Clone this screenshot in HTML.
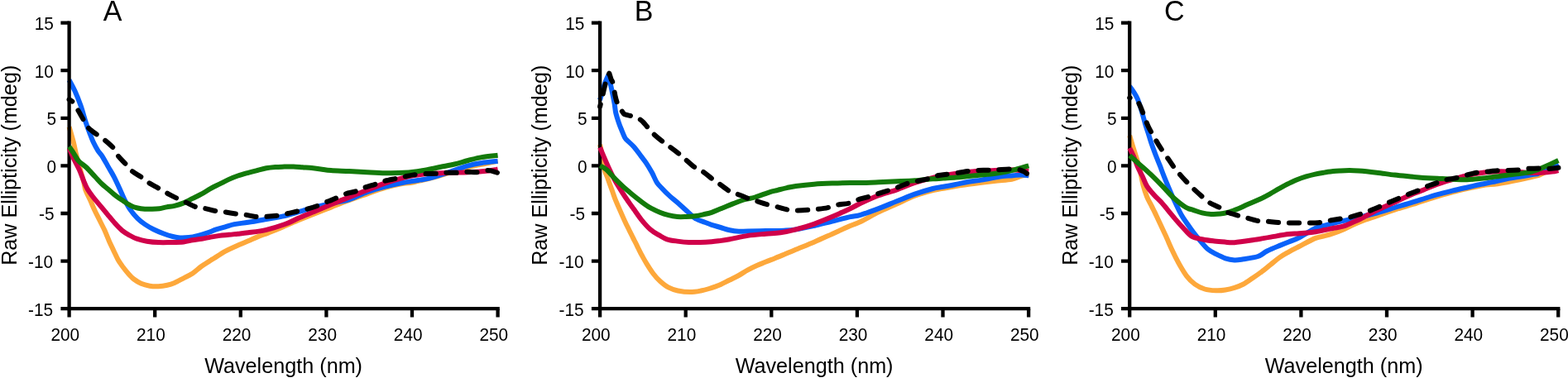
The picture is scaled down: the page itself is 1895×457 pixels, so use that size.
<!DOCTYPE html>
<html><head><meta charset="utf-8"><title>CD spectra</title>
<style>
html,body{margin:0;padding:0;background:#fff;}
body{width:1895px;height:457px;overflow:hidden;}
svg{display:block;}
.t{font-size:20.8px;font-family:'Liberation Sans',Arial,sans-serif;fill:#000;}
.at{font-size:25.2px;font-family:'Liberation Sans',Arial,sans-serif;fill:#000;}
.pl{font-size:34px;font-family:'Liberation Sans',Arial,sans-serif;fill:#000;}
</style></head><body>
<svg width="1895" height="457" viewBox="0 0 1895 457">
<rect width="1895" height="457" fill="#fff"/>
<text transform="translate(64.8,36.0) scale(1,1.07)" text-anchor="end" class="t">15</text>
<text transform="translate(64.8,93.6) scale(1,1.07)" text-anchor="end" class="t">10</text>
<text transform="translate(68.0,151.2) scale(1,1.07)" text-anchor="end" class="t">5</text>
<text transform="translate(68.0,208.8) scale(1,1.07)" text-anchor="end" class="t">0</text>
<text transform="translate(65.6,266.4) scale(1,1.07)" text-anchor="end" class="t">-5</text>
<text transform="translate(64.1,324.0) scale(1,1.07)" text-anchor="end" class="t">-10</text>
<text transform="translate(64.1,381.6) scale(1,1.07)" text-anchor="end" class="t">-15</text>
<text transform="translate(78.8,411.6) scale(1,1.07)" text-anchor="middle" class="t">200</text>
<text transform="translate(182.4,411.6) scale(1,1.07)" text-anchor="middle" class="t">210</text>
<text transform="translate(286.0,411.6) scale(1,1.07)" text-anchor="middle" class="t">220</text>
<text transform="translate(389.6,411.6) scale(1,1.07)" text-anchor="middle" class="t">230</text>
<text transform="translate(493.2,411.6) scale(1,1.07)" text-anchor="middle" class="t">240</text>
<text transform="translate(596.8,411.6) scale(1,1.07)" text-anchor="middle" class="t">250</text>
<path d="M83.6,153.3 C84.5,156.4 87.3,166.1 88.8,171.8 C90.2,177.5 91.0,182.4 92.3,187.6 C93.6,192.9 95.1,198.1 96.6,203.3 C98.0,208.6 99.9,214.7 101.0,219.1 C102.1,223.5 102.0,225.8 103.3,229.6 C104.6,233.4 107.2,237.7 109.0,241.8 C110.8,245.9 112.4,250.0 114.3,254.1 C116.2,258.2 118.4,262.2 120.4,266.3 C122.4,270.4 124.6,274.4 126.5,278.6 C128.4,282.9 130.2,287.7 132.0,291.8 C133.8,295.9 135.6,299.3 137.3,303.0 C139.1,306.7 140.8,310.7 142.5,313.8 C144.2,316.9 145.8,318.9 147.8,321.7 C149.9,324.5 152.5,327.9 154.8,330.5 C157.1,333.1 159.2,335.5 161.8,337.5 C164.4,339.5 167.3,341.3 170.5,342.7 C173.7,344.1 177.5,345.1 181.0,345.7 C184.5,346.3 188.0,346.4 191.5,346.2 C195.0,346.0 198.9,345.4 202.1,344.7 C205.3,344.0 207.6,343.3 210.9,341.9 C214.2,340.5 218.2,338.2 221.9,336.3 C225.6,334.4 229.2,332.9 232.8,330.5 C236.5,328.1 239.5,324.9 243.8,321.8 C248.1,318.8 254.0,315.2 258.7,312.2 C263.4,309.2 267.6,306.2 272.0,303.8 C276.4,301.4 280.3,299.8 285.0,297.7 C289.7,295.6 295.6,293.2 300.0,291.3 C304.4,289.4 307.2,288.0 311.2,286.4 C315.2,284.8 319.6,283.3 324.0,281.6 C328.4,279.9 333.1,278.2 337.5,276.3 C341.9,274.4 346.9,272.1 350.6,270.5 C354.4,268.9 355.1,268.4 360.0,266.4 C364.9,264.4 373.3,261.1 380.0,258.5 C386.7,255.9 393.3,253.2 400.0,250.6 C406.7,248.0 412.7,245.5 420.0,242.8 C427.3,240.1 436.2,237.0 443.8,234.3 C451.4,231.6 458.3,228.9 465.6,226.8 C472.9,224.7 481.8,222.9 487.5,221.8 C493.2,220.7 492.9,221.8 500.0,220.3 C507.1,218.8 520.0,215.6 530.0,212.8 C540.0,210.0 551.7,205.9 560.0,203.6 C568.3,201.3 574.1,200.2 580.0,199.0 C585.9,197.8 591.6,196.8 595.2,196.1 C598.8,195.4 600.5,195.0 601.6,194.8" fill="none" stroke="#FDA83B" stroke-width="6.0" stroke-linecap="butt" stroke-linejoin="round"/>
<path d="M83.6,96.8 C84.8,99.0 88.2,105.0 90.5,110.1 C92.8,115.2 95.2,121.1 97.5,127.6 C99.8,134.1 102.2,143.4 104.0,148.8 C105.8,154.2 106.5,155.9 108.0,159.8 C109.5,163.7 111.2,168.6 113.0,172.3 C114.8,176.1 116.7,179.5 118.5,182.3 C120.3,185.1 121.8,186.1 123.8,189.3 C125.8,192.5 128.5,197.5 130.8,201.6 C133.1,205.7 135.5,209.4 137.8,213.8 C140.1,218.2 142.3,223.2 144.4,227.8 C146.5,232.4 148.3,237.0 150.5,241.3 C152.7,245.6 154.9,249.8 157.5,253.6 C160.1,257.4 163.4,261.2 166.3,264.1 C169.2,267.0 171.8,268.9 175.0,271.1 C178.2,273.3 181.7,275.3 185.5,277.2 C189.3,279.1 193.9,281.0 197.8,282.5 C201.7,284.0 205.5,285.2 208.8,286.0 C212.1,286.8 214.2,287.3 217.5,287.5 C220.8,287.7 224.8,287.5 228.4,287.1 C232.1,286.7 235.8,285.8 239.4,284.9 C243.1,284.0 246.7,282.9 250.3,281.6 C254.0,280.4 257.7,278.6 261.3,277.4 C264.9,276.2 268.6,275.4 272.2,274.3 C275.8,273.2 278.6,272.0 283.2,271.1 C287.8,270.2 293.6,269.8 300.0,268.8 C306.4,267.8 314.6,266.3 321.9,265.0 C329.2,263.7 336.5,262.8 343.8,261.1 C351.1,259.4 359.6,256.6 365.6,254.8 C371.6,253.1 374.3,252.1 380.0,250.6 C385.7,249.1 393.0,247.4 400.0,245.8 C407.0,244.2 414.6,243.6 421.9,241.3 C429.2,239.0 436.5,234.7 443.8,232.1 C451.1,229.5 458.3,227.5 465.6,225.6 C472.9,223.7 481.8,221.9 487.5,220.8 C493.2,219.7 495.2,219.6 500.0,218.8 C504.8,218.0 510.9,217.4 516.4,216.1 C521.9,214.9 527.3,213.0 532.8,211.3 C538.3,209.6 543.8,207.7 549.3,205.9 C554.8,204.1 560.2,201.8 565.7,200.3 C571.2,198.8 576.1,197.9 582.1,197.0 C588.1,196.1 598.4,195.2 601.6,194.8" fill="none" stroke="#0A62FA" stroke-width="6.0" stroke-linecap="butt" stroke-linejoin="round"/>
<path d="M83.6,25.6 V373.2 H603.8" fill="none" stroke="#000" stroke-width="4.3" stroke-linejoin="miter" stroke-linecap="butt"/>
<path d="M73.4,27.6 H83.6 M73.4,85.2 H83.6 M73.4,142.8 H83.6 M73.4,200.4 H83.6 M73.4,258.0 H83.6 M73.4,315.6 H83.6 M73.4,373.2 H83.6 M83.6,373.2 V383.4 M187.2,373.2 V383.4 M290.8,373.2 V383.4 M394.4,373.2 V383.4 M498.0,373.2 V383.4 M601.6,373.2 V383.4" fill="none" stroke="#000" stroke-width="4.3"/>
<path d="M83.6,179.1 C84.5,181.1 86.8,187.0 88.8,191.3 C90.8,195.6 93.8,200.6 95.8,205.1 C97.8,209.6 99.4,214.4 101.0,218.3 C102.6,222.2 103.6,225.0 105.5,228.3 C107.4,231.6 109.9,234.9 112.5,238.3 C115.1,241.7 118.4,245.3 121.3,248.8 C124.2,252.3 127.1,255.8 130.0,259.3 C132.9,262.8 135.9,266.6 138.8,269.8 C141.7,273.0 144.6,276.2 147.5,278.6 C150.4,281.0 153.3,282.6 156.3,284.3 C159.3,286.0 161.8,287.5 165.3,288.7 C168.8,289.9 173.1,291.0 177.5,291.7 C181.9,292.4 186.9,292.9 191.5,293.1 C196.1,293.3 199.9,293.2 205.0,293.1 C210.1,293.0 217.3,293.0 221.9,292.5 C226.5,292.0 229.2,290.9 232.8,290.3 C236.5,289.7 240.2,289.4 243.8,288.8 C247.5,288.2 251.1,287.2 254.7,286.6 C258.3,286.0 262.0,285.4 265.6,284.9 C269.2,284.4 273.0,284.2 276.6,283.8 C280.2,283.4 283.6,283.1 287.5,282.7 C291.4,282.3 294.3,282.1 300.0,281.3 C305.7,280.5 314.6,279.5 321.9,277.8 C329.2,276.1 337.4,273.6 343.8,271.3 C350.2,269.0 354.0,266.7 360.0,264.1 C366.0,261.5 373.3,258.6 380.0,255.8 C386.7,253.0 393.3,250.1 400.0,247.3 C406.7,244.5 412.7,242.0 420.0,239.1 C427.3,236.2 436.2,232.8 443.8,229.8 C451.4,226.8 458.3,223.8 465.6,221.3 C472.9,218.8 481.8,216.3 487.5,214.8 C493.2,213.3 495.2,212.9 500.0,212.1 C504.8,211.3 510.9,210.6 516.4,210.1 C521.9,209.6 527.3,209.5 532.8,209.3 C538.3,209.1 543.8,209.0 549.3,208.8 C554.8,208.6 560.2,208.5 565.7,208.2 C571.2,207.9 576.6,207.7 582.1,207.2 C587.6,206.7 595.2,205.7 598.5,205.2 C601.8,204.7 601.1,204.5 601.6,204.4" fill="none" stroke="#D0004A" stroke-width="6.0" stroke-linecap="butt" stroke-linejoin="round"/>
<path d="M83.6,177.3 C84.5,178.6 86.9,181.9 88.8,184.8 C90.7,187.7 92.3,191.7 94.9,194.6 C97.5,197.6 101.2,199.3 104.5,202.5 C107.8,205.7 111.9,210.5 115.0,213.8 C118.1,217.1 120.3,219.8 123.0,222.3 C125.7,224.9 128.1,226.6 131.0,229.1 C133.9,231.6 137.5,234.9 140.5,237.2 C143.5,239.5 146.0,241.0 148.8,242.8 C151.6,244.7 154.6,246.9 157.5,248.3 C160.4,249.8 163.4,250.8 166.3,251.5 C169.2,252.2 172.1,252.5 175.0,252.7 C177.9,252.9 180.9,252.9 183.8,252.8 C186.7,252.7 189.6,252.6 192.5,252.2 C195.4,251.8 198.2,251.0 201.3,250.4 C204.4,249.8 207.5,249.6 210.9,248.8 C214.3,248.0 218.2,246.9 221.9,245.4 C225.6,243.9 229.2,241.7 232.8,239.9 C236.5,238.1 240.2,236.4 243.8,234.4 C247.5,232.4 251.1,229.8 254.7,227.8 C258.3,225.8 262.0,224.2 265.6,222.4 C269.2,220.6 273.0,218.6 276.6,216.9 C280.2,215.2 283.6,213.8 287.5,212.5 C291.4,211.2 296.1,209.9 300.0,208.8 C303.9,207.7 307.2,206.9 310.9,206.0 C314.5,205.1 318.2,204.0 321.9,203.3 C325.5,202.6 329.1,202.3 332.8,202.0 C336.5,201.7 340.2,201.7 343.8,201.6 C347.4,201.5 351.1,201.5 354.7,201.6 C358.3,201.7 362.0,202.0 365.6,202.2 C369.2,202.5 373.0,202.7 376.6,203.1 C380.2,203.5 383.6,203.9 387.5,204.4 C391.4,204.9 394.3,205.6 400.0,206.0 C405.7,206.4 414.6,206.7 421.9,207.1 C429.2,207.5 436.5,207.9 443.8,208.2 C451.1,208.6 458.3,209.1 465.6,209.2 C472.9,209.3 481.8,209.0 487.5,208.8 C493.2,208.6 495.2,208.4 500.0,207.8 C504.8,207.2 510.9,206.1 516.4,205.1 C521.9,204.1 527.3,202.9 532.8,201.8 C538.3,200.7 543.8,199.8 549.3,198.5 C554.8,197.2 560.2,195.4 565.7,194.0 C571.2,192.6 576.1,191.1 582.1,190.1 C588.1,189.1 598.4,188.2 601.6,187.8" fill="none" stroke="#137A0A" stroke-width="6.0" stroke-linecap="butt" stroke-linejoin="round"/>
<path class="bk" d="M83.6,120.3 C84.3,120.8 86.3,121.2 88.0,123.3 C89.7,125.4 91.8,129.2 94.0,132.8 C96.2,136.4 99.0,141.6 101.0,145.1 C103.0,148.7 103.6,151.2 106.3,154.1 C109.0,157.1 113.8,160.3 117.2,162.8 C120.6,165.3 123.1,166.5 126.4,169.2 C129.7,171.9 134.2,175.7 136.9,178.8 C139.6,181.9 139.9,184.7 142.4,188.0 C144.9,191.3 149.2,195.3 152.0,198.4 C154.8,201.5 156.1,204.0 159.3,206.7 C162.6,209.4 168.2,212.3 171.5,214.6 C174.8,216.9 176.0,218.5 179.4,220.7 C182.8,222.9 188.1,225.6 191.7,227.7 C195.3,229.8 197.4,231.2 201.2,233.2 C205.0,235.2 210.5,238.2 214.3,240.0 C218.1,241.8 220.3,242.6 224.1,244.3 C227.9,246.0 233.4,249.1 237.2,250.4 C241.0,251.7 243.0,251.1 247.0,251.9 C251.0,252.7 257.3,254.5 261.3,255.2 C265.3,255.9 267.1,255.8 271.1,256.3 C275.1,256.9 281.1,257.9 285.3,258.5 C289.5,259.1 292.4,259.0 296.3,259.6 C300.2,260.2 304.7,261.6 308.8,262.0 C312.9,262.4 316.4,262.0 320.8,261.8 C325.2,261.6 330.8,261.2 335.0,260.7 C339.2,260.1 341.8,259.4 346.0,258.5 C350.2,257.6 356.2,256.1 360.2,255.2 C364.2,254.3 366.0,254.1 370.0,253.0 C374.0,251.9 380.2,250.1 384.2,248.6 C388.2,247.2 391.5,245.4 394.1,244.3 C396.7,243.2 397.7,243.0 400.0,242.1 C402.3,241.2 404.8,240.1 407.7,238.8 C410.6,237.5 413.7,235.7 417.5,234.4 C421.3,233.1 426.8,232.4 430.6,231.1 C434.4,229.8 436.5,228.2 440.5,226.8 C444.5,225.4 450.9,223.7 454.7,222.4 C458.5,221.1 459.5,220.2 463.5,219.1 C467.5,218.0 474.6,216.7 478.8,215.8 C483.0,214.9 485.1,214.3 488.6,213.6 C492.1,212.9 495.9,212.0 500.0,211.4 C504.1,210.8 508.5,210.4 513.1,210.1 C517.8,209.8 523.8,210.0 527.9,209.8 C532.0,209.6 533.7,209.0 537.8,208.8 C541.9,208.6 548.3,209.0 552.5,208.8 C556.7,208.6 559.1,207.8 563.2,207.7 C567.3,207.6 573.1,208.5 577.2,208.2 C581.3,207.9 585.0,206.3 587.8,206.0 C590.6,205.7 591.8,206.1 594.0,206.6 C596.2,207.1 599.8,208.4 601.0,208.8" fill="none" stroke="#000" stroke-width="6.0" stroke-dasharray="12 13" stroke-dashoffset="7.5" stroke-linecap="round" stroke-linejoin="round"/>
<text transform="translate(706.3,36.0) scale(1,1.07)" text-anchor="end" class="t">15</text>
<text transform="translate(706.3,93.6) scale(1,1.07)" text-anchor="end" class="t">10</text>
<text transform="translate(709.5,151.2) scale(1,1.07)" text-anchor="end" class="t">5</text>
<text transform="translate(709.5,208.8) scale(1,1.07)" text-anchor="end" class="t">0</text>
<text transform="translate(707.1,266.4) scale(1,1.07)" text-anchor="end" class="t">-5</text>
<text transform="translate(705.6,324.0) scale(1,1.07)" text-anchor="end" class="t">-10</text>
<text transform="translate(705.6,381.6) scale(1,1.07)" text-anchor="end" class="t">-15</text>
<text transform="translate(720.3,411.6) scale(1,1.07)" text-anchor="middle" class="t">200</text>
<text transform="translate(823.9,411.6) scale(1,1.07)" text-anchor="middle" class="t">210</text>
<text transform="translate(927.5,411.6) scale(1,1.07)" text-anchor="middle" class="t">220</text>
<text transform="translate(1031.1,411.6) scale(1,1.07)" text-anchor="middle" class="t">230</text>
<text transform="translate(1134.7,411.6) scale(1,1.07)" text-anchor="middle" class="t">240</text>
<text transform="translate(1238.3,411.6) scale(1,1.07)" text-anchor="middle" class="t">250</text>
<path d="M725.1,174.8 C725.5,176.8 726.6,181.8 727.5,186.8 C728.4,191.8 729.5,200.3 730.5,204.8 C731.5,209.3 732.7,210.8 733.8,213.8 C734.9,216.8 735.9,219.8 737.0,222.8 C738.1,225.8 739.2,228.8 740.3,231.8 C741.4,234.8 742.0,237.2 743.5,240.8 C745.0,244.4 746.9,248.9 749.0,253.6 C751.1,258.4 753.7,264.4 756.0,269.3 C758.3,274.2 761.2,279.7 763.0,283.3 C764.8,286.9 765.4,288.4 766.6,290.7 C767.8,293.0 768.9,295.1 770.0,297.3 C771.1,299.5 772.2,301.9 773.2,303.9 C774.2,306.0 774.8,307.2 776.2,309.6 C777.6,312.1 779.2,315.0 781.4,318.6 C783.6,322.2 786.9,327.4 789.6,331.0 C792.3,334.6 794.8,337.3 797.8,340.0 C800.8,342.7 804.1,345.5 807.7,347.4 C811.3,349.3 814.8,350.6 819.2,351.5 C823.6,352.4 829.4,353.1 834.0,353.1 C838.6,353.1 843.3,352.2 847.1,351.5 C850.9,350.8 854.0,349.9 857.0,349.0 C860.0,348.1 862.7,347.1 865.0,346.3 C867.3,345.5 868.1,345.3 870.9,344.0 C873.7,342.7 878.2,340.3 881.9,338.5 C885.5,336.7 889.1,335.0 892.8,333.0 C896.4,331.0 900.1,328.4 903.8,326.4 C907.4,324.4 911.1,322.6 914.7,321.0 C918.3,319.4 922.0,318.1 925.6,316.6 C929.2,315.1 933.0,313.7 936.6,312.2 C940.2,310.7 943.6,309.4 947.5,307.8 C951.4,306.2 954.0,304.9 960.0,302.4 C966.0,299.9 976.2,295.9 983.8,292.7 C991.4,289.4 998.3,286.2 1005.6,282.9 C1012.9,279.6 1021.8,275.5 1027.5,273.0 C1033.2,270.5 1034.3,270.8 1040.0,268.0 C1045.7,265.2 1054.6,260.0 1061.9,256.4 C1069.2,252.8 1076.5,249.9 1083.8,246.6 C1091.1,243.3 1098.3,239.5 1105.6,236.8 C1112.9,234.1 1121.8,231.7 1127.5,230.2 C1133.2,228.7 1132.8,229.0 1140.0,227.8 C1147.2,226.6 1160.4,224.3 1170.6,222.9 C1180.8,221.5 1192.6,220.1 1201.3,219.1 C1210.0,218.1 1217.6,217.7 1222.7,216.8 C1227.8,215.9 1228.5,214.8 1231.9,213.7 C1235.3,212.6 1241.4,210.9 1243.3,210.3" fill="none" stroke="#FDA83B" stroke-width="6.0" stroke-linecap="butt" stroke-linejoin="round"/>
<path d="M725.1,120.8 C725.7,118.8 727.4,112.4 728.5,108.8 C729.6,105.2 730.4,102.2 731.5,99.3 C732.6,96.4 735.0,91.3 735.0,91.3 C735.0,91.3 736.3,96.2 737.0,98.8 C737.7,101.4 738.1,102.8 739.0,107.1 C739.9,111.4 741.6,119.6 742.5,124.6 C743.4,129.6 743.3,132.6 744.3,136.8 C745.3,141.0 747.1,146.3 748.3,149.8 C749.5,153.3 750.4,155.1 751.5,157.8 C752.6,160.5 753.9,163.9 754.9,165.8 C755.9,167.7 755.6,167.3 757.5,169.3 C759.4,171.3 763.4,174.4 766.3,177.7 C769.2,181.0 772.6,185.9 775.0,189.1 C777.4,192.3 778.6,193.5 780.8,196.8 C783.0,200.1 785.8,204.8 788.0,208.8 C790.2,212.8 791.8,217.5 794.0,220.8 C796.2,224.1 798.4,225.9 801.0,228.7 C803.6,231.5 806.6,234.5 809.8,237.4 C813.0,240.3 816.8,243.1 820.3,246.2 C823.8,249.3 827.3,252.7 830.8,255.8 C834.3,258.9 838.1,262.6 841.3,264.6 C844.5,266.7 846.9,266.9 850.0,268.1 C853.1,269.3 856.5,270.7 860.0,271.8 C863.5,272.9 867.2,273.9 870.9,275.0 C874.5,276.1 878.2,277.5 881.9,278.3 C885.5,279.1 889.1,279.6 892.8,279.8 C896.4,280.0 898.3,279.6 903.8,279.5 C909.3,279.4 918.3,279.1 925.6,279.0 C932.9,278.9 941.5,279.0 947.5,278.7 C953.5,278.4 955.9,278.4 961.9,277.4 C967.9,276.5 976.5,274.6 983.8,273.0 C991.1,271.4 998.3,269.3 1005.6,267.5 C1012.9,265.7 1021.8,263.4 1027.5,262.1 C1033.2,260.8 1034.3,261.5 1040.0,259.8 C1045.7,258.1 1054.6,254.9 1061.9,252.1 C1069.2,249.4 1076.5,246.2 1083.8,243.3 C1091.1,240.4 1098.3,237.2 1105.6,234.6 C1112.9,232.1 1121.8,229.5 1127.5,228.0 C1133.2,226.5 1135.4,226.7 1140.0,225.8 C1144.6,225.0 1150.2,223.9 1155.3,222.9 C1160.4,221.9 1165.5,220.7 1170.6,219.8 C1175.7,218.9 1180.9,218.4 1186.0,217.6 C1191.1,216.8 1197.0,215.6 1201.3,214.8 C1205.6,214.0 1208.2,213.4 1212.0,213.0 C1215.8,212.6 1220.4,212.5 1224.2,212.2 C1228.0,211.9 1231.7,211.4 1234.9,211.4 C1238.1,211.4 1241.9,212.2 1243.3,212.3" fill="none" stroke="#0A62FA" stroke-width="6.0" stroke-linecap="butt" stroke-linejoin="round"/>
<path d="M725.1,25.6 V373.2 H1245.2" fill="none" stroke="#000" stroke-width="4.3" stroke-linejoin="miter" stroke-linecap="butt"/>
<path d="M714.9,27.6 H725.1 M714.9,85.2 H725.1 M714.9,142.8 H725.1 M714.9,200.4 H725.1 M714.9,258.0 H725.1 M714.9,315.6 H725.1 M714.9,373.2 H725.1 M725.1,373.2 V383.4 M828.7,373.2 V383.4 M932.3,373.2 V383.4 M1035.9,373.2 V383.4 M1139.5,373.2 V383.4 M1243.1,373.2 V383.4" fill="none" stroke="#000" stroke-width="4.3"/>
<path d="M725.1,178.3 C726.0,180.4 728.4,186.3 730.3,190.7 C732.2,195.1 734.4,200.2 736.4,204.5 C738.4,208.8 740.6,213.2 742.5,216.8 C744.4,220.4 745.8,222.6 748.0,226.3 C750.2,230.0 752.9,234.2 756.0,238.8 C759.1,243.4 763.3,249.1 766.5,253.6 C769.7,258.1 772.1,261.9 775.3,265.8 C778.5,269.7 782.3,274.1 785.8,277.2 C789.3,280.3 792.9,282.2 796.3,284.2 C799.7,286.2 802.3,288.1 806.0,289.3 C809.7,290.5 814.1,291.0 818.5,291.6 C822.9,292.2 827.8,292.8 832.5,293.0 C837.2,293.2 841.9,293.1 846.5,293.0 C851.1,292.9 856.1,292.6 860.0,292.3 C863.9,292.0 866.4,291.6 870.0,291.1 C873.6,290.6 876.3,290.2 881.9,289.2 C887.5,288.2 896.5,286.0 903.8,284.9 C911.1,283.8 919.0,283.3 925.6,282.7 C932.2,282.1 937.2,282.2 943.2,281.3 C949.2,280.4 955.1,279.2 961.9,277.4 C968.7,275.7 976.5,273.4 983.8,270.8 C991.1,268.2 998.3,265.2 1005.6,262.1 C1012.9,259.0 1021.8,254.9 1027.5,252.2 C1033.2,249.5 1034.3,248.5 1040.0,245.8 C1045.7,243.2 1054.6,239.1 1061.9,236.3 C1069.2,233.6 1076.5,231.9 1083.8,229.3 C1091.1,226.7 1098.3,223.2 1105.6,220.8 C1112.9,218.4 1121.8,216.2 1127.5,214.8 C1133.2,213.4 1132.7,213.5 1140.0,212.3 C1147.3,211.1 1162.1,208.8 1171.4,207.8 C1180.7,206.8 1187.7,206.7 1195.9,206.3 C1204.1,205.9 1212.5,205.2 1220.4,205.3 C1228.3,205.4 1239.5,206.6 1243.3,206.8" fill="none" stroke="#D0004A" stroke-width="6.0" stroke-linecap="butt" stroke-linejoin="round"/>
<path d="M725.1,200.3 C726.5,201.1 730.6,203.1 733.3,205.3 C735.9,207.5 738.5,211.0 741.0,213.7 C743.5,216.4 745.8,218.6 748.6,221.3 C751.4,224.0 754.2,226.7 757.8,229.8 C761.4,232.9 765.6,236.4 770.0,239.8 C774.4,243.2 779.4,247.3 784.0,250.1 C788.6,252.9 793.5,255.0 797.5,256.7 C801.5,258.4 804.5,259.3 808.0,260.2 C811.5,261.1 815.0,261.7 818.5,262.0 C822.0,262.3 825.5,262.1 829.0,262.0 C832.5,261.9 836.0,261.8 839.5,261.3 C843.0,260.9 846.6,260.1 850.0,259.3 C853.4,258.6 856.2,258.1 860.0,256.8 C863.8,255.5 868.3,253.4 872.6,251.7 C876.9,250.0 881.1,248.2 885.7,246.4 C890.3,244.7 895.5,242.5 900.0,241.2 C904.5,239.9 907.5,240.0 912.5,238.5 C917.5,237.0 925.4,233.8 930.0,232.3 C934.6,230.9 936.5,230.7 940.0,229.8 C943.5,228.9 947.2,227.9 950.9,227.1 C954.5,226.3 956.4,225.6 961.9,224.9 C967.4,224.2 976.5,223.2 983.8,222.7 C991.1,222.2 998.3,221.9 1005.6,221.6 C1012.9,221.3 1021.8,221.0 1027.5,220.9 C1033.2,220.8 1034.3,221.2 1040.0,221.1 C1045.7,221.0 1054.6,220.6 1061.9,220.3 C1069.2,220.0 1076.5,219.6 1083.8,219.2 C1091.1,218.9 1098.3,218.7 1105.6,218.2 C1112.9,217.7 1121.8,216.7 1127.5,216.3 C1133.2,215.9 1135.4,215.9 1140.0,215.6 C1144.6,215.3 1150.2,215.0 1155.3,214.6 C1160.4,214.2 1165.5,213.5 1170.6,213.0 C1175.7,212.5 1180.9,211.9 1186.0,211.4 C1191.1,210.9 1196.2,210.5 1201.3,209.9 C1206.4,209.3 1212.0,208.5 1216.6,207.6 C1221.2,206.7 1224.3,205.7 1228.8,204.5 C1233.2,203.3 1240.9,201.0 1243.3,200.3" fill="none" stroke="#137A0A" stroke-width="6.0" stroke-linecap="butt" stroke-linejoin="round"/>
<path class="bk" d="M725.1,128.8 C725.6,126.8 727.0,121.0 728.0,116.8 C729.0,112.6 730.0,107.5 731.0,103.8 C732.0,100.0 732.9,96.8 733.8,94.3 C734.7,91.8 736.3,88.6 736.3,88.6 C736.3,88.6 737.9,93.8 738.6,95.8 C739.4,97.8 740.0,97.5 740.8,100.8 C741.6,104.1 742.6,111.8 743.5,115.8 C744.4,119.8 745.1,122.2 746.0,124.6 C746.9,127.0 748.0,128.6 749.0,130.3 C750.0,132.0 751.0,133.5 752.0,134.8 C753.0,136.1 753.1,137.4 755.0,138.3 C756.9,139.2 761.3,139.8 763.5,140.3 C765.7,140.8 766.5,140.8 768.0,141.3 C769.5,141.9 770.9,142.6 772.4,143.6 C773.9,144.6 775.0,145.4 776.8,147.1 C778.5,148.9 780.7,151.6 782.9,154.1 C785.1,156.6 786.8,159.1 789.9,162.0 C793.0,164.9 798.1,169.1 801.3,171.6 C804.5,174.2 805.9,174.9 809.2,177.3 C812.5,179.7 817.7,183.6 821.0,186.2 C824.3,188.9 825.7,190.4 828.9,193.2 C832.1,196.0 836.9,200.5 840.3,202.8 C843.6,205.1 845.6,205.0 849.0,207.2 C852.4,209.4 857.1,213.5 860.4,216.0 C863.7,218.5 865.6,219.5 869.0,222.0 C872.4,224.5 877.5,228.8 881.0,230.8 C884.5,232.8 885.8,232.5 889.8,234.1 C893.8,235.7 900.8,238.8 904.7,240.2 C908.6,241.7 909.6,241.6 913.4,242.8 C917.2,244.0 923.0,246.0 927.4,247.2 C931.8,248.5 936.1,249.3 940.0,250.3 C943.9,251.3 947.2,252.6 950.9,253.3 C954.5,254.0 957.5,254.3 961.9,254.4 C966.3,254.5 973.0,254.1 977.2,253.8 C981.4,253.6 983.2,253.3 987.0,252.9 C990.8,252.5 996.2,252.0 1000.2,251.1 C1004.2,250.3 1006.7,248.7 1011.1,247.8 C1015.5,246.9 1022.2,246.7 1026.4,245.7 C1030.6,244.7 1032.4,242.9 1036.3,241.6 C1040.2,240.3 1045.9,239.0 1049.8,237.8 C1053.7,236.6 1055.7,235.9 1059.7,234.6 C1063.7,233.3 1069.9,231.5 1073.9,230.2 C1077.9,228.9 1079.8,228.4 1083.8,226.9 C1087.8,225.4 1094.0,222.7 1098.0,221.4 C1102.0,220.1 1103.8,220.1 1107.8,219.2 C1111.8,218.3 1118.3,217.1 1122.1,216.0 C1125.9,214.9 1127.8,213.5 1130.8,212.7 C1133.8,211.9 1135.8,211.9 1140.0,211.3 C1144.2,210.7 1150.9,209.9 1156.1,209.1 C1161.3,208.4 1167.3,207.3 1171.4,206.8 C1175.5,206.3 1176.5,206.3 1180.6,206.1 C1184.7,205.9 1191.8,205.7 1195.9,205.6 C1200.0,205.5 1201.0,205.5 1205.1,205.3 C1209.2,205.1 1216.2,204.6 1220.4,204.5 C1224.6,204.4 1227.6,204.3 1230.4,204.8 C1233.2,205.3 1235.2,206.5 1237.0,207.3 C1238.8,208.1 1240.3,209.4 1241.0,209.8" fill="none" stroke="#000" stroke-width="6.0" stroke-dasharray="12 13" stroke-dashoffset="9.2" stroke-linecap="round" stroke-linejoin="round"/>
<text transform="translate(1346.4,36.0) scale(1,1.07)" text-anchor="end" class="t">15</text>
<text transform="translate(1346.4,93.6) scale(1,1.07)" text-anchor="end" class="t">10</text>
<text transform="translate(1349.6,151.2) scale(1,1.07)" text-anchor="end" class="t">5</text>
<text transform="translate(1349.6,208.8) scale(1,1.07)" text-anchor="end" class="t">0</text>
<text transform="translate(1347.2,266.4) scale(1,1.07)" text-anchor="end" class="t">-5</text>
<text transform="translate(1345.7,324.0) scale(1,1.07)" text-anchor="end" class="t">-10</text>
<text transform="translate(1345.7,381.6) scale(1,1.07)" text-anchor="end" class="t">-15</text>
<text transform="translate(1360.4,411.6) scale(1,1.07)" text-anchor="middle" class="t">200</text>
<text transform="translate(1464.0,411.6) scale(1,1.07)" text-anchor="middle" class="t">210</text>
<text transform="translate(1567.6,411.6) scale(1,1.07)" text-anchor="middle" class="t">220</text>
<text transform="translate(1671.2,411.6) scale(1,1.07)" text-anchor="middle" class="t">230</text>
<text transform="translate(1774.8,411.6) scale(1,1.07)" text-anchor="middle" class="t">240</text>
<text transform="translate(1878.4,411.6) scale(1,1.07)" text-anchor="middle" class="t">250</text>
<path d="M1365.2,163.8 C1365.7,165.6 1367.0,170.0 1368.3,174.4 C1369.6,178.8 1371.8,185.3 1373.3,190.2 C1374.8,195.1 1375.9,198.2 1377.3,203.8 C1378.7,209.4 1380.0,218.0 1381.5,223.6 C1383.0,229.2 1384.4,233.5 1386.0,237.6 C1387.6,241.7 1389.5,244.6 1391.3,248.1 C1393.0,251.6 1394.8,255.0 1396.5,258.6 C1398.2,262.2 1399.7,265.5 1401.7,269.8 C1403.7,274.1 1406.1,279.2 1408.6,284.6 C1411.1,290.0 1413.9,296.7 1416.5,302.3 C1419.1,307.9 1421.5,312.8 1424.4,318.0 C1427.4,323.2 1430.9,329.5 1434.2,333.8 C1437.5,338.1 1440.5,341.0 1444.1,343.6 C1447.7,346.2 1451.7,348.2 1455.9,349.5 C1460.2,350.8 1465.4,351.1 1469.6,351.3 C1473.8,351.5 1477.2,351.1 1480.9,350.5 C1484.6,349.9 1488.2,349.1 1491.9,347.9 C1495.6,346.7 1499.2,345.4 1502.8,343.5 C1506.4,341.6 1510.1,338.8 1513.8,336.3 C1517.5,333.8 1521.1,331.3 1524.7,328.6 C1528.3,325.9 1531.9,322.8 1535.6,319.9 C1539.2,317.0 1542.9,313.7 1546.6,311.1 C1550.2,308.6 1553.6,306.8 1557.5,304.6 C1561.4,302.4 1564.6,300.8 1570.0,298.0 C1575.4,295.2 1584.8,290.0 1590.0,287.9 C1595.2,285.8 1597.3,286.2 1601.0,285.2 C1604.7,284.2 1608.2,283.2 1611.9,281.9 C1615.6,280.7 1619.2,279.3 1622.9,277.7 C1626.6,276.1 1629.3,274.5 1633.8,272.5 C1638.3,270.5 1645.0,267.7 1650.0,265.8 C1655.0,263.9 1657.9,263.2 1663.8,261.2 C1669.7,259.2 1678.3,256.0 1685.6,253.6 C1692.9,251.2 1701.8,248.8 1707.5,247.0 C1713.2,245.2 1712.1,245.2 1720.0,242.8 C1727.9,240.4 1743.3,235.5 1755.0,232.4 C1766.7,229.3 1780.8,226.2 1790.0,224.5 C1799.2,222.8 1802.3,223.4 1810.0,222.2 C1817.7,221.0 1828.0,219.0 1836.3,217.3 C1844.6,215.6 1860.0,211.8 1860.0,211.8 C1860.0,211.8 1879.5,202.5 1883.4,200.6" fill="none" stroke="#FDA83B" stroke-width="6.0" stroke-linecap="butt" stroke-linejoin="round"/>
<path d="M1365.2,104.3 C1366.1,105.5 1368.9,109.2 1370.5,111.8 C1372.1,114.3 1373.5,116.5 1374.8,119.6 C1376.1,122.7 1377.3,126.7 1378.5,130.3 C1379.7,133.9 1380.7,137.8 1381.7,141.3 C1382.7,144.8 1383.5,148.1 1384.5,151.3 C1385.5,154.6 1386.4,157.1 1387.6,160.8 C1388.8,164.5 1390.0,168.9 1391.5,173.3 C1393.0,177.8 1395.0,182.9 1396.7,187.5 C1398.5,192.1 1400.3,196.3 1402.0,200.7 C1403.7,205.1 1405.0,208.8 1407.0,213.8 C1409.0,218.8 1411.7,225.2 1414.0,230.6 C1416.3,236.0 1418.7,241.4 1421.0,246.3 C1423.3,251.2 1425.7,256.2 1428.0,260.3 C1430.3,264.4 1432.7,267.4 1435.0,270.8 C1437.3,274.2 1439.5,277.3 1442.0,280.6 C1444.5,283.9 1447.0,287.1 1450.0,290.5 C1453.0,293.9 1456.5,298.5 1459.8,301.3 C1463.1,304.1 1466.1,305.4 1469.6,307.2 C1473.1,309.0 1477.2,311.1 1480.9,312.3 C1484.6,313.5 1488.2,314.2 1491.9,314.4 C1495.6,314.6 1498.1,314.0 1502.8,313.3 C1507.5,312.6 1515.5,311.6 1520.3,310.0 C1525.0,308.4 1526.9,305.7 1531.3,303.5 C1535.7,301.3 1542.2,298.7 1546.6,296.9 C1551.0,295.1 1553.6,294.1 1557.5,292.5 C1561.4,290.9 1564.6,290.1 1570.0,287.3 C1575.4,284.5 1584.8,278.2 1590.0,275.8 C1595.2,273.4 1597.3,273.6 1601.0,272.6 C1604.7,271.6 1608.2,270.7 1611.9,269.8 C1615.6,268.9 1617.9,268.3 1622.9,267.1 C1627.9,265.9 1635.1,264.4 1641.9,262.8 C1648.7,261.2 1656.5,259.5 1663.8,257.5 C1671.1,255.5 1678.3,253.2 1685.6,251.0 C1692.9,248.8 1701.8,246.2 1707.5,244.4 C1713.2,242.7 1715.0,242.1 1720.0,240.5 C1725.0,238.9 1731.7,236.7 1737.5,235.1 C1743.3,233.5 1749.2,232.1 1755.0,230.7 C1760.8,229.3 1766.7,228.0 1772.5,226.7 C1778.3,225.4 1784.2,224.0 1790.0,222.8 C1795.8,221.6 1802.1,220.5 1807.6,219.3 C1813.1,218.2 1818.3,216.8 1823.1,215.9 C1827.9,215.0 1831.9,214.6 1836.3,213.9 C1840.7,213.2 1845.8,212.1 1849.4,211.5 C1853.0,210.9 1858.0,210.3 1858.0,210.3 C1858.0,210.3 1879.2,200.1 1883.4,198.1" fill="none" stroke="#0A62FA" stroke-width="6.0" stroke-linecap="butt" stroke-linejoin="round"/>
<path d="M1365.2,25.6 V373.2 H1885.4" fill="none" stroke="#000" stroke-width="4.3" stroke-linejoin="miter" stroke-linecap="butt"/>
<path d="M1355.0,27.6 H1365.2 M1355.0,85.2 H1365.2 M1355.0,142.8 H1365.2 M1355.0,200.4 H1365.2 M1355.0,258.0 H1365.2 M1355.0,315.6 H1365.2 M1355.0,373.2 H1365.2 M1365.2,373.2 V383.4 M1468.8,373.2 V383.4 M1572.4,373.2 V383.4 M1676.0,373.2 V383.4 M1779.6,373.2 V383.4 M1883.2,373.2 V383.4" fill="none" stroke="#000" stroke-width="4.3"/>
<path d="M1365.2,179.0 C1366.1,180.9 1368.9,186.6 1370.5,190.2 C1372.1,193.8 1373.3,197.7 1374.6,200.8 C1375.9,203.9 1377.3,206.6 1378.4,208.8 C1379.5,211.0 1379.7,211.1 1381.0,213.8 C1382.3,216.5 1383.7,221.1 1386.0,224.8 C1388.3,228.5 1391.9,232.5 1394.8,235.8 C1397.7,239.1 1400.6,241.4 1403.5,244.6 C1406.4,247.8 1409.4,251.6 1412.3,255.1 C1415.2,258.6 1418.1,262.2 1421.0,265.6 C1423.9,269.0 1426.6,272.0 1429.8,275.3 C1433.0,278.6 1436.1,283.2 1440.1,285.6 C1444.1,288.0 1449.3,288.5 1453.9,289.5 C1458.5,290.5 1463.4,291.0 1467.7,291.5 C1472.0,292.0 1476.0,292.3 1480.0,292.6 C1484.0,292.9 1486.3,293.6 1491.9,293.2 C1497.5,292.8 1506.5,291.4 1513.8,290.3 C1521.1,289.2 1528.3,287.8 1535.6,286.6 C1542.9,285.4 1551.8,283.8 1557.5,283.1 C1563.2,282.4 1564.6,282.8 1570.0,282.3 C1575.4,281.8 1584.8,280.9 1590.0,280.2 C1595.2,279.5 1597.3,278.7 1601.0,278.0 C1604.7,277.3 1608.2,276.5 1611.9,275.8 C1615.6,275.1 1619.2,274.8 1622.9,273.7 C1626.6,272.6 1630.2,270.9 1633.8,269.3 C1637.4,267.7 1639.8,266.8 1644.8,264.3 C1649.8,261.8 1657.0,257.6 1663.8,254.3 C1670.6,251.0 1678.3,247.7 1685.6,244.4 C1692.9,241.1 1701.8,237.0 1707.5,234.6 C1713.2,232.2 1715.2,231.8 1720.0,229.8 C1724.8,227.8 1729.7,225.2 1736.6,222.8 C1743.5,220.4 1753.2,217.5 1761.2,215.3 C1769.2,213.1 1776.7,211.1 1784.8,209.8 C1792.9,208.5 1801.4,207.6 1810.0,207.3 C1818.6,207.0 1829.7,207.7 1836.3,208.0 C1842.9,208.3 1845.0,209.0 1849.4,209.1 C1853.8,209.2 1858.2,209.0 1862.6,208.7 C1867.0,208.5 1872.2,208.1 1875.7,207.6 C1879.2,207.2 1882.1,206.3 1883.4,206.0" fill="none" stroke="#D0004A" stroke-width="6.0" stroke-linecap="butt" stroke-linejoin="round"/>
<path d="M1365.2,188.1 C1367.0,189.7 1372.0,194.1 1376.2,197.9 C1380.4,201.7 1385.8,206.2 1390.5,210.7 C1395.2,215.2 1400.0,220.1 1404.7,224.9 C1409.5,229.8 1414.2,235.5 1419.0,239.8 C1423.8,244.1 1429.4,248.5 1433.2,250.8 C1437.0,253.1 1438.6,252.7 1441.9,253.8 C1445.2,254.9 1449.2,256.6 1452.8,257.4 C1456.4,258.3 1460.1,258.7 1463.8,258.9 C1467.5,259.1 1471.1,258.9 1474.7,258.5 C1478.3,258.1 1481.9,257.3 1485.6,256.3 C1489.2,255.3 1492.9,253.8 1496.6,252.3 C1500.2,250.8 1503.0,249.3 1507.5,247.3 C1512.0,245.3 1519.2,242.4 1523.8,240.2 C1528.4,238.0 1531.4,236.3 1535.0,234.3 C1538.6,232.3 1542.0,230.2 1545.6,228.2 C1549.2,226.2 1552.8,224.1 1556.5,222.3 C1560.2,220.5 1563.8,218.7 1567.5,217.2 C1571.2,215.7 1574.8,214.5 1578.5,213.4 C1582.2,212.3 1585.8,211.4 1589.4,210.6 C1593.0,209.8 1596.7,209.2 1600.3,208.6 C1603.9,208.0 1608.0,207.5 1611.3,207.1 C1614.6,206.7 1616.7,206.6 1620.0,206.4 C1623.3,206.2 1627.2,206.1 1630.9,206.1 C1634.6,206.1 1636.4,206.2 1641.9,206.6 C1647.4,207.0 1656.5,207.9 1663.8,208.7 C1671.1,209.5 1678.3,210.8 1685.6,211.6 C1692.9,212.5 1701.8,213.2 1707.5,213.8 C1713.2,214.4 1715.0,214.6 1720.0,214.9 C1725.0,215.2 1731.7,215.5 1737.5,215.8 C1743.3,216.1 1749.2,216.5 1755.0,216.7 C1760.8,216.9 1766.7,217.4 1772.5,217.2 C1778.3,217.1 1784.2,216.4 1790.0,215.8 C1795.8,215.2 1802.1,214.3 1807.6,213.6 C1813.1,212.9 1818.3,212.1 1823.1,211.5 C1827.9,210.9 1831.9,210.6 1836.3,210.0 C1840.7,209.4 1845.2,209.0 1849.4,208.0 C1853.6,207.0 1861.4,204.0 1861.4,204.0 C1861.4,204.0 1879.7,195.7 1883.4,194.0" fill="none" stroke="#137A0A" stroke-width="6.0" stroke-linecap="butt" stroke-linejoin="round"/>
<path class="bk" d="M1365.2,118.1 C1366.2,118.5 1369.4,119.5 1371.0,120.3 C1372.6,121.1 1373.7,121.2 1375.0,122.8 C1376.3,124.4 1377.3,126.8 1378.7,130.0 C1380.1,133.2 1381.8,137.9 1383.3,141.8 C1384.8,145.7 1386.2,149.8 1388.0,153.5 C1389.8,157.2 1392.0,160.8 1394.0,164.3 C1396.0,167.9 1397.9,171.3 1400.1,174.8 C1402.3,178.3 1404.6,181.8 1407.0,185.3 C1409.4,188.8 1412.3,192.7 1414.3,195.6 C1416.3,198.5 1417.3,200.3 1419.0,202.6 C1420.7,204.9 1421.9,206.5 1424.5,209.4 C1427.1,212.3 1431.6,217.2 1434.5,220.3 C1437.4,223.4 1438.9,224.9 1441.9,227.8 C1445.0,230.7 1449.7,235.0 1452.8,237.7 C1455.9,240.5 1457.0,242.1 1460.5,244.3 C1464.0,246.5 1469.9,248.8 1473.6,250.8 C1477.2,252.8 1478.6,254.7 1482.4,256.3 C1486.2,257.9 1492.6,259.5 1496.6,260.7 C1500.6,261.9 1502.3,262.2 1506.3,263.3 C1510.2,264.4 1516.2,266.3 1520.3,267.0 C1524.4,267.7 1526.8,267.2 1531.0,267.6 C1535.2,268.0 1541.2,268.8 1545.4,269.1 C1549.6,269.4 1551.8,269.4 1556.0,269.5 C1560.2,269.6 1566.3,269.6 1570.3,269.6 C1574.3,269.6 1576.4,269.7 1580.2,269.6 C1584.0,269.6 1589.3,269.7 1593.3,269.3 C1597.3,268.9 1599.5,267.9 1604.2,267.1 C1608.9,266.3 1617.1,264.9 1621.2,264.3 C1625.3,263.7 1624.8,264.3 1628.9,263.3 C1633.0,262.3 1641.7,259.6 1645.9,258.3 C1650.1,257.0 1650.4,256.8 1653.9,255.4 C1657.4,254.0 1663.2,251.6 1667.0,249.9 C1670.8,248.2 1673.1,247.2 1676.9,245.5 C1680.7,243.8 1686.2,241.6 1690.0,240.0 C1693.8,238.4 1695.9,237.3 1699.9,235.7 C1703.9,234.1 1710.4,231.8 1714.1,230.2 C1717.8,228.6 1718.0,227.8 1721.8,226.3 C1725.5,224.8 1732.5,222.6 1736.6,221.1 C1740.7,219.7 1742.2,218.6 1746.3,217.6 C1750.4,216.6 1757.3,215.8 1761.2,214.9 C1765.1,214.0 1766.0,213.3 1769.9,212.3 C1773.8,211.3 1780.7,209.5 1784.8,208.8 C1788.9,208.1 1790.2,208.3 1794.4,207.9 C1798.6,207.5 1806.1,206.5 1810.2,206.2 C1814.3,205.9 1814.9,206.1 1819.2,206.0 C1823.5,205.9 1832.2,205.7 1836.3,205.4 C1840.3,205.1 1839.3,204.4 1843.5,204.1 C1847.7,203.8 1857.0,203.4 1861.2,203.4 C1865.4,203.4 1864.8,204.3 1868.5,204.2 C1872.2,204.1 1880.9,203.0 1883.4,202.8" fill="none" stroke="#000" stroke-width="6.0" stroke-dasharray="12 13" stroke-dashoffset="11.3" stroke-linecap="round" stroke-linejoin="round"/>
<text transform="translate(124.8,25.3) scale(1,1.05)" class="pl">A</text>
<text transform="translate(766.8,25.3) scale(1,1.05)" class="pl">B</text>
<text transform="translate(1407.0,25.3) scale(1,1.05)" class="pl">C</text>
<text transform="translate(20.2,199.8) rotate(-90)" text-anchor="middle" class="at">Raw Ellipticity (mdeg)</text>
<text transform="translate(660.9,199.8) rotate(-90)" text-anchor="middle" class="at">Raw Ellipticity (mdeg)</text>
<text transform="translate(1302.4,199.8) rotate(-90)" text-anchor="middle" class="at">Raw Ellipticity (mdeg)</text>
<text x="342.6" y="451.0" text-anchor="middle" class="at">Wavelength (nm)</text>
<text x="984.1" y="451.0" text-anchor="middle" class="at">Wavelength (nm)</text>
<text x="1624.2" y="451.0" text-anchor="middle" class="at">Wavelength (nm)</text>
</svg>
</body></html>
